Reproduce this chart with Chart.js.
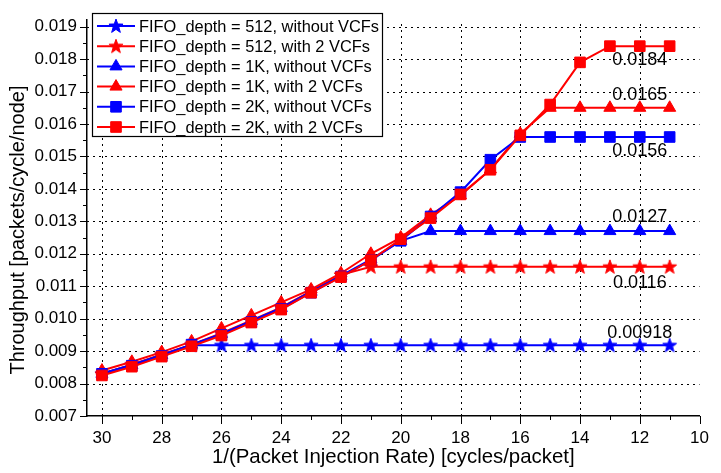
<!DOCTYPE html>
<html><head><meta charset="utf-8">
<script src="https://cdn.jsdelivr.net/npm/chart.js@4"></script>
<style>html,body{margin:0;padding:0;background:#fff}#wrap{width:721px;height:473px;position:relative}</style>
</head><body><div id="wrap"><canvas id="c" width="721" height="473"></canvas></div>
<script>
// ---- data ----
const xValues = [30,29,28,27,26,25,24,23,22,21,20,19,18,17,16,15,14,13,12,11];
const seriesLabels = [
  'FIFO_depth = 512, without VCFs',
  'FIFO_depth = 512, with 2 VCFs',
  'FIFO_depth = 1K, without VCFs',
  'FIFO_depth = 1K, with 2 VCFs',
  'FIFO_depth = 2K, without VCFs',
  'FIFO_depth = 2K, with 2 VCFs'
];
const fifo512NoVcf = [0.0083,0.00858,0.00888,0.00918,0.00918,0.00918,0.00918,0.00918,0.00918,0.00918,0.00918,0.00918,0.00918,0.00918,0.00918,0.00918,0.00918,0.00918,0.00918,0.00918];
const fifo512Vcf   = [0.0083,0.00858,0.0089,0.0092,0.00955,0.00995,0.01035,0.01085,0.01135,0.0116,0.0116,0.0116,0.0116,0.0116,0.0116,0.0116,0.0116,0.0116,0.0116,0.0116];
const fifo1kNoVcf  = [0.0083,0.00857,0.00888,0.0092,0.00953,0.00993,0.01033,0.01083,0.01132,0.01183,0.0124,0.0127,0.0127,0.0127,0.0127,0.0127,0.0127,0.0127,0.0127,0.0127];
const fifo1kVcf    = [0.0084,0.00867,0.00897,0.0093,0.0097,0.0101,0.0105,0.0109,0.0114,0.0120,0.0125,0.0132,0.0138,0.0146,0.0157,0.0165,0.0165,0.0165,0.0165,0.0165];
const fifo2kNoVcf  = [0.0083,0.00855,0.00885,0.0092,0.0095,0.0099,0.0103,0.0108,0.0113,0.0118,0.0124,0.01315,0.0139,0.0149,0.0156,0.0156,0.0156,0.0156,0.0156,0.0156];
const fifo2kVcf    = [0.00825,0.00852,0.00883,0.00915,0.00948,0.00988,0.01028,0.0108,0.01128,0.0118,0.01245,0.0131,0.01383,0.01459,0.01565,0.0166,0.0179,0.0184,0.0184,0.0184];
const xTickValues = [30,28,26,24,22,20,18,16,14,12,10];
const yTickValues = [0.007,0.008,0.009,0.010,0.011,0.012,0.013,0.014,0.015,0.016,0.017,0.018,0.019];
const annotationTexts = ['0.0184','0.0165','0.0156','0.0127','0.0116','0.00918'];
const annotationValues = [0.0184,0.0165,0.0156,0.0127,0.0116,0.00918];
const annotationX = 12;
const xTitle = '1/(Packet Injection Rate) [cycles/packet]';
const yTitle = 'Throughput [packets/cycle/node]';

// ---- styles ----
const BLUE = '#0000ff', RED = '#ff0000';
const FONT = "'Liberation Sans', Arial, Helvetica, sans-serif";
Chart.defaults.font.family = FONT;
Chart.defaults.color = '#000';

function makeStar(color) {
  const c = document.createElement('canvas');
  c.width = 16; c.height = 16;
  const g = c.getContext('2d');
  g.fillStyle = color; g.strokeStyle = color; g.lineWidth = 1;
  g.beginPath();
  for (let i = 0; i < 10; i++) {
    const r = i % 2 === 0 ? 7.4 : 3.0;
    const a = -Math.PI / 2 + i * Math.PI / 5;
    const px = 8 + r * Math.cos(a), py = 8.4 + r * Math.sin(a);
    if (i === 0) g.moveTo(px, py); else g.lineTo(px, py);
  }
  g.closePath(); g.fill(); g.stroke();
  return c;
}
const starBlue = makeStar(BLUE), starRed = makeStar(RED);

const seriesValues = [fifo512NoVcf, fifo512Vcf, fifo1kNoVcf, fifo1kVcf, fifo2kNoVcf, fifo2kVcf];
const seriesColors = [BLUE, RED, BLUE, RED, BLUE, RED];
const seriesPoints = [starBlue, starRed, 'triangle', 'triangle', 'rect', 'rect'];
const seriesRadius = [7, 7, 7, 7, 7.5, 7.5];

const datasets = seriesValues.map((vals, i) => ({
  label: seriesLabels[i],
  data: xValues.map((x, j) => ({x: x, y: vals[j]})),
  borderColor: seriesColors[i],
  backgroundColor: seriesColors[i],
  pointBackgroundColor: seriesColors[i],
  pointBorderColor: seriesColors[i],
  pointStyle: seriesPoints[i],
  pointRadius: seriesRadius[i],
  pointBorderWidth: 1,
  borderWidth: 2,
  tension: 0,
  order: 5 - i
}));

const extras = {
  id: 'extras',
  beforeDraw(chart) {
    const ctx = chart.ctx;
    ctx.save(); ctx.fillStyle = '#fff'; ctx.fillRect(0, 0, chart.width, chart.height); ctx.restore();
  },
  beforeDatasetsDraw(chart) {
    const ctx = chart.ctx;
    const xs = chart.scales.x, ys = chart.scales.y;
    const area = chart.chartArea;
    ctx.save();
    ctx.strokeStyle = '#000';
    ctx.lineWidth = 1;
    ctx.setLineDash([2, 4]);
    ctx.beginPath();
    xTickValues.forEach(v => {
      if (v === 10) return;
      const px = Math.round(xs.getPixelForValue(v)) + 0.5;
      ctx.moveTo(px, area.bottom); ctx.lineTo(px, area.top);
    });
    yTickValues.forEach(v => {
      if (Math.abs(v - 0.007) < 1e-9) return;
      const py = Math.round(ys.getPixelForValue(v)) + 0.5;
      ctx.moveTo(area.left, py); ctx.lineTo(area.right, py);
    });
    ctx.stroke();
    ctx.restore();
  },
  afterDatasetsDraw(chart) {
    const ctx = chart.ctx;
    const xs = chart.scales.x, ys = chart.scales.y;
    const offs = [14, -13, 14, -14, 16, -12];
    ctx.save();
    ctx.font = '18px ' + FONT;
    ctx.fillStyle = '#000';
    ctx.textAlign = 'center';
    ctx.textBaseline = 'middle';
    annotationTexts.forEach((t, i) => {
      ctx.fillText(t, xs.getPixelForValue(annotationX), ys.getPixelForValue(annotationValues[i]) + offs[i]);
    });
    ctx.restore();
  },
  afterDraw(chart) {
    const ctx = chart.ctx;
    const xs = chart.scales.x, ys = chart.scales.y;
    const area = chart.chartArea;
    ctx.save();
    ctx.strokeStyle = '#000';
    ctx.lineWidth = 1;
    ctx.beginPath();
    for (let k = 14; k <= 38; k++) {
      const py = Math.round(ys.getPixelForValue(k / 2000)) + 0.5;
      const len = (k % 2 === 0) ? 7 : 4;
      ctx.moveTo(area.left - len, py); ctx.lineTo(area.left, py);
    }
    for (let v = 10; v <= 30; v++) {
      const px = Math.round(xs.getPixelForValue(v)) + 0.5;
      const len = (v % 2 === 0) ? 8 : 4;
      ctx.moveTo(px, area.bottom); ctx.lineTo(px, area.bottom + len);
    }
    ctx.stroke();
    ctx.restore();

    // y axis title
    ctx.save();
    ctx.translate(18.5, 230);
    ctx.rotate(-Math.PI / 2);
    ctx.font = '20px ' + FONT;
    ctx.fillStyle = '#000';
    ctx.textAlign = 'center';
    ctx.textBaseline = 'middle';
    ctx.fillText(yTitle, 0, 0);
    ctx.restore();

    // legend box
    const lx = 92, ly = 13, lw = 290, lh = 123;
    ctx.save();
    ctx.fillStyle = '#fff';
    ctx.fillRect(lx, ly, lw, lh);
    ctx.strokeStyle = '#000';
    ctx.lineWidth = 1.2;
    ctx.strokeRect(lx + 0.5, ly + 0.5, lw, lh);
    ctx.font = '16.4px ' + FONT;
    ctx.textBaseline = 'middle';
    ctx.textAlign = 'left';
    seriesLabels.forEach((lab, i) => {
      const cy = ly + 13 + i * 20.2;
      ctx.strokeStyle = seriesColors[i];
      ctx.fillStyle = seriesColors[i];
      ctx.lineWidth = 2;
      ctx.beginPath(); ctx.moveTo(lx + 5, cy); ctx.lineTo(lx + 43, cy); ctx.stroke();
      ctx.lineWidth = 1;
      Chart.helpers.drawPoint(ctx, {
        pointStyle: seriesPoints[i], radius: seriesRadius[i], borderWidth: 1, rotation: 0
      }, lx + 24, cy);
      ctx.fillStyle = '#000';
      ctx.fillText(lab, lx + 47, cy + 1);
    });
    ctx.restore();
  }
};

new Chart(document.getElementById('c'), {
  type: 'line',
  data: { datasets: datasets },
  options: {
    responsive: false,
    animation: false,
    events: [],
    layout: { padding: { top: 17, right: 11, left: 0, bottom: 0 } },
    plugins: { legend: { display: false }, tooltip: { enabled: false } },
    scales: {
      x: {
        type: 'linear',
        reverse: true,
        min: 10, max: 30.5,
        afterBuildTicks: (s) => { s.ticks = xTickValues.map(v => ({value: v})); },
        afterFit: (s) => { s.height = 57; },
        ticks: { font: { size: 17 }, padding: 12, maxRotation: 0, autoSkip: false, callback: (v) => String(v) },
        grid: { display: false, drawTicks: false },
        border: { display: true, color: '#000', width: 1.5 },
        title: { display: true, text: xTitle, font: { size: 20.4 }, padding: { top: 0, bottom: 3 } }
      },
      y: {
        type: 'linear',
        min: 0.007, max: 0.0192,
        afterBuildTicks: (s) => { s.ticks = yTickValues.map(v => ({value: v})); },
        afterFit: (s) => { s.width = 87; },
        ticks: { font: { size: 17 }, padding: 10, autoSkip: false, callback: (v) => Number(v).toFixed(3) },
        grid: { display: false, drawTicks: false },
        border: { display: true, color: '#000', width: 1.5 },
        title: { display: false }
      }
    }
  },
  plugins: [extras]
});
</script>
</body></html>
